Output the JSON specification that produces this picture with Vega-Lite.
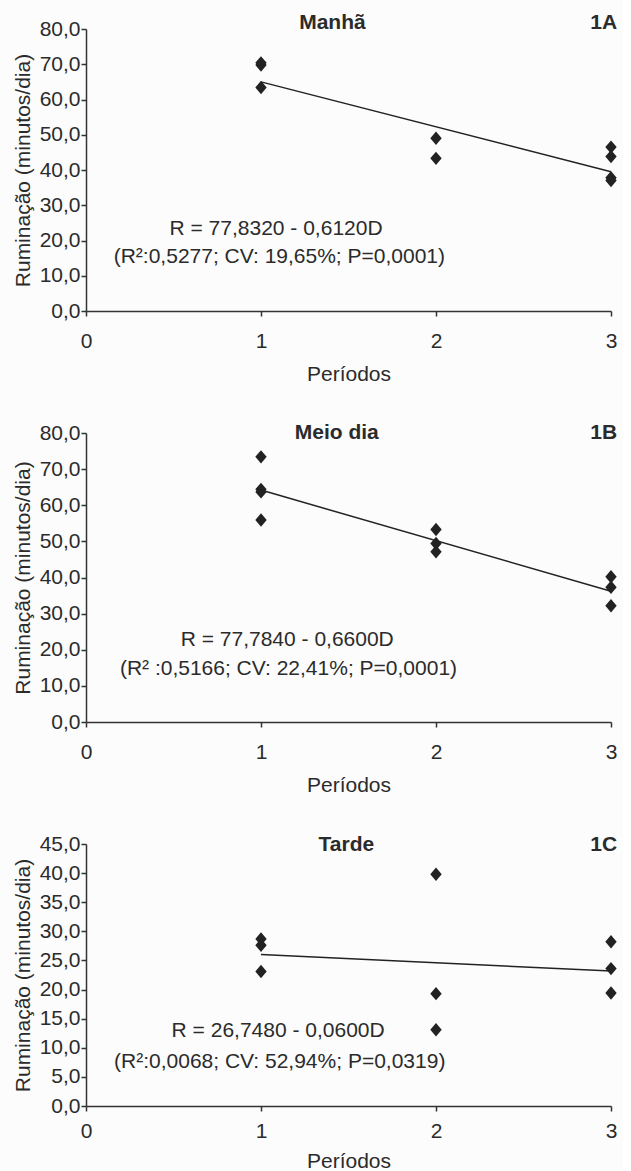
{
  "$schema": "https://vega.github.io/schema/vega-lite/v6.json",
  "background": "#fcfcfc",
  "padding": {"left": 12, "top": 12, "right": 5, "bottom": 2},
  "datasets": {
    "pts": [
      {"painel": "A", "periodo": 1, "ruminacao": 70.4},
      {"painel": "A", "periodo": 1, "ruminacao": 69.8},
      {"painel": "A", "periodo": 1, "ruminacao": 63.4},
      {"painel": "A", "periodo": 2, "ruminacao": 49.0},
      {"painel": "A", "periodo": 2, "ruminacao": 43.3},
      {"painel": "A", "periodo": 3, "ruminacao": 46.5},
      {"painel": "A", "periodo": 3, "ruminacao": 43.8},
      {"painel": "A", "periodo": 3, "ruminacao": 37.8},
      {"painel": "A", "periodo": 3, "ruminacao": 37.0},
      {"painel": "B", "periodo": 1, "ruminacao": 73.4},
      {"painel": "B", "periodo": 1, "ruminacao": 64.4},
      {"painel": "B", "periodo": 1, "ruminacao": 63.7},
      {"painel": "B", "periodo": 1, "ruminacao": 55.9},
      {"painel": "B", "periodo": 2, "ruminacao": 53.3},
      {"painel": "B", "periodo": 2, "ruminacao": 49.4},
      {"painel": "B", "periodo": 2, "ruminacao": 47.1},
      {"painel": "B", "periodo": 3, "ruminacao": 40.2},
      {"painel": "B", "periodo": 3, "ruminacao": 37.3},
      {"painel": "B", "periodo": 3, "ruminacao": 32.2},
      {"painel": "C", "periodo": 1, "ruminacao": 28.7},
      {"painel": "C", "periodo": 1, "ruminacao": 27.6},
      {"painel": "C", "periodo": 1, "ruminacao": 23.1},
      {"painel": "C", "periodo": 2, "ruminacao": 39.8},
      {"painel": "C", "periodo": 2, "ruminacao": 19.3},
      {"painel": "C", "periodo": 2, "ruminacao": 13.1},
      {"painel": "C", "periodo": 3, "ruminacao": 28.2},
      {"painel": "C", "periodo": 3, "ruminacao": 23.6},
      {"painel": "C", "periodo": 3, "ruminacao": 19.4}
    ],
    "fit": [
      {"painel": "A", "periodo": 1, "ruminacao": 65.0},
      {"painel": "A", "periodo": 3, "ruminacao": 39.5},
      {"painel": "B", "periodo": 1, "ruminacao": 64.2},
      {"painel": "B", "periodo": 3, "ruminacao": 36.2},
      {"painel": "C", "periodo": 1, "ruminacao": 26.0},
      {"painel": "C", "periodo": 3, "ruminacao": 23.2}
    ]
  },
  "config": {
    "view": {"stroke": null},
    "font": "Liberation Sans",
    "axis": {
      "grid": false,
      "domainColor": "#333333",
      "domainWidth": 1.5,
      "tickColor": "#333333",
      "tickWidth": 1.5,
      "tickSize": 5,
      "labelFont": "Liberation Sans",
      "labelFontSize": 21,
      "labelColor": "#2b2b2b",
      "titleFont": "Liberation Sans",
      "titleFontSize": 21,
      "titleFontWeight": "normal",
      "titleColor": "#2b2b2b"
    },
    "axisX": {"labelPadding": 14, "titlePadding": 12},
    "axisY": {"labelPadding": 1, "titlePadding": 6},
    "text": {"font": "Liberation Sans", "fontSize": 21, "color": "#2b2b2b"}
  },
  "spacing": 122,
  "bounds": "flush",
  "vconcat": [
    {
      "width": 525,
      "height": 282,
      "layer": [
        {
          "data": {"name": "pts"},
          "transform": [{"filter": "datum.painel === 'A'"}],
          "mark": {"type": "point", "shape": "M0,-1L0.85,0L0,1L-0.85,0Z", "filled": true, "size": 180, "color": "#222222", "opacity": 1},
          "encoding": {
            "x": {"field": "periodo", "type": "quantitative", "scale": {"domain": [0, 3], "nice": false}, "axis": {"values": [0, 1, 2, 3], "tickCount": 20, "format": "d", "title": "Períodos", "labelOverlap": false, "labelFlush": false}},
            "y": {"field": "ruminacao", "type": "quantitative", "scale": {"domain": [0, 80], "nice": false}, "axis": {"values": [0, 10, 20, 30, 40, 50, 60, 70, 80], "tickCount": 20, "labelOverlap": false, "labelFlush": false, "labelExpr": "replace(format(datum.value, '.1f'), '.', ',')", "title": "Ruminação (minutos/dia)"}}
          }
        },
        {
          "data": {"name": "fit"},
          "transform": [{"filter": "datum.painel === 'A'"}],
          "mark": {"type": "line", "color": "#222222", "strokeWidth": 1.5},
          "encoding": {
            "x": {"field": "periodo", "type": "quantitative"},
            "y": {"field": "ruminacao", "type": "quantitative"}
          }
        },
        {
          "data": {"values": [{}]},
          "mark": {"type": "text", "text": "Manhã", "fontWeight": "bold", "align": "center", "baseline": "middle"},
          "encoding": {"x": {"datum": 1.408, "type": "quantitative"}, "y": {"datum": 81.7, "type": "quantitative"}}
        },
        {
          "data": {"values": [{}]},
          "mark": {"type": "text", "text": "1A", "fontWeight": "bold", "align": "right", "baseline": "middle"},
          "encoding": {"x": {"datum": 3.035, "type": "quantitative"}, "y": {"datum": 81.7, "type": "quantitative"}}
        },
        {
          "data": {"values": [{}]},
          "mark": {"type": "text", "text": "R = 77,8320 - 0,6120D", "align": "center", "baseline": "middle"},
          "encoding": {"x": {"datum": 1.086, "type": "quantitative"}, "y": {"datum": 23.3, "type": "quantitative"}}
        },
        {
          "data": {"values": [{}]},
          "mark": {"type": "text", "text": "(R²:0,5277; CV: 19,65%; P=0,0001)", "align": "center", "baseline": "middle"},
          "encoding": {"x": {"datum": 1.105, "type": "quantitative"}, "y": {"datum": 15.3, "type": "quantitative"}}
        }
      ]
    },
    {
      "width": 525,
      "height": 289,
      "layer": [
        {
          "data": {"name": "pts"},
          "transform": [{"filter": "datum.painel === 'B'"}],
          "mark": {"type": "point", "shape": "M0,-1L0.85,0L0,1L-0.85,0Z", "filled": true, "size": 180, "color": "#222222", "opacity": 1},
          "encoding": {
            "x": {"field": "periodo", "type": "quantitative", "scale": {"domain": [0, 3], "nice": false}, "axis": {"values": [0, 1, 2, 3], "tickCount": 20, "format": "d", "title": "Períodos", "labelOverlap": false, "labelFlush": false}},
            "y": {"field": "ruminacao", "type": "quantitative", "scale": {"domain": [0, 80], "nice": false}, "axis": {"values": [0, 10, 20, 30, 40, 50, 60, 70, 80], "tickCount": 20, "labelOverlap": false, "labelFlush": false, "labelExpr": "replace(format(datum.value, '.1f'), '.', ',')", "title": "Ruminação (minutos/dia)"}}
          }
        },
        {
          "data": {"name": "fit"},
          "transform": [{"filter": "datum.painel === 'B'"}],
          "mark": {"type": "line", "color": "#222222", "strokeWidth": 1.5},
          "encoding": {
            "x": {"field": "periodo", "type": "quantitative"},
            "y": {"field": "ruminacao", "type": "quantitative"}
          }
        },
        {
          "data": {"values": [{}]},
          "mark": {"type": "text", "text": "Meio dia", "fontWeight": "bold", "align": "center", "baseline": "middle"},
          "encoding": {"x": {"datum": 1.433, "type": "quantitative"}, "y": {"datum": 80.0, "type": "quantitative"}}
        },
        {
          "data": {"values": [{}]},
          "mark": {"type": "text", "text": "1B", "fontWeight": "bold", "align": "right", "baseline": "middle"},
          "encoding": {"x": {"datum": 3.035, "type": "quantitative"}, "y": {"datum": 80.0, "type": "quantitative"}}
        },
        {
          "data": {"values": [{}]},
          "mark": {"type": "text", "text": "R = 77,7840 - 0,6600D", "align": "center", "baseline": "middle"},
          "encoding": {"x": {"datum": 1.15, "type": "quantitative"}, "y": {"datum": 22.7, "type": "quantitative"}}
        },
        {
          "data": {"values": [{}]},
          "mark": {"type": "text", "text": "(R² :0,5166; CV: 22,41%; P=0,0001)", "align": "center", "baseline": "middle"},
          "encoding": {"x": {"datum": 1.157, "type": "quantitative"}, "y": {"datum": 14.7, "type": "quantitative"}}
        }
      ]
    },
    {
      "width": 525,
      "height": 262,
      "layer": [
        {
          "data": {"name": "pts"},
          "transform": [{"filter": "datum.painel === 'C'"}],
          "mark": {"type": "point", "shape": "M0,-1L0.85,0L0,1L-0.85,0Z", "filled": true, "size": 180, "color": "#222222", "opacity": 1},
          "encoding": {
            "x": {"field": "periodo", "type": "quantitative", "scale": {"domain": [0, 3], "nice": false}, "axis": {"values": [0, 1, 2, 3], "tickCount": 20, "format": "d", "title": "Períodos", "labelOverlap": false, "labelFlush": false, "labelPadding": 9, "titlePadding": 9}},
            "y": {"field": "ruminacao", "type": "quantitative", "scale": {"domain": [0, 45], "nice": false}, "axis": {"values": [0, 5, 10, 15, 20, 25, 30, 35, 40, 45], "tickCount": 20, "labelOverlap": false, "labelFlush": false, "labelExpr": "replace(format(datum.value, '.1f'), '.', ',')", "title": "Ruminação (minutos/dia)"}}
          }
        },
        {
          "data": {"name": "fit"},
          "transform": [{"filter": "datum.painel === 'C'"}],
          "mark": {"type": "line", "color": "#222222", "strokeWidth": 1.5},
          "encoding": {
            "x": {"field": "periodo", "type": "quantitative"},
            "y": {"field": "ruminacao", "type": "quantitative"}
          }
        },
        {
          "data": {"values": [{}]},
          "mark": {"type": "text", "text": "Tarde", "fontWeight": "bold", "align": "center", "baseline": "middle"},
          "encoding": {"x": {"datum": 1.488, "type": "quantitative"}, "y": {"datum": 44.9, "type": "quantitative"}}
        },
        {
          "data": {"values": [{}]},
          "mark": {"type": "text", "text": "1C", "fontWeight": "bold", "align": "right", "baseline": "middle"},
          "encoding": {"x": {"datum": 3.035, "type": "quantitative"}, "y": {"datum": 44.9, "type": "quantitative"}}
        },
        {
          "data": {"values": [{}]},
          "mark": {"type": "text", "text": "R = 26,7480 - 0,0600D", "align": "center", "baseline": "middle"},
          "encoding": {"x": {"datum": 1.098, "type": "quantitative"}, "y": {"datum": 12.8, "type": "quantitative"}}
        },
        {
          "data": {"values": [{}]},
          "mark": {"type": "text", "text": "(R²:0,0068; CV: 52,94%; P=0,0319)", "align": "center", "baseline": "middle"},
          "encoding": {"x": {"datum": 1.107, "type": "quantitative"}, "y": {"datum": 7.6, "type": "quantitative"}}
        }
      ]
    }
  ]
}
